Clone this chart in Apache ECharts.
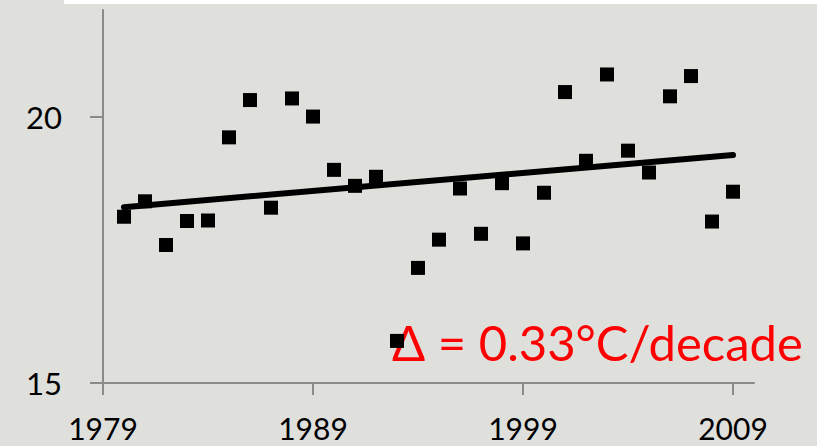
<!DOCTYPE html>
<html>
<head>
<meta charset="utf-8">
<style>
  html, body { margin: 0; padding: 0; background: #dfdfdc; }
  #chart { width: 817px; height: 446px; }
</style>
<script src="https://cdn.jsdelivr.net/npm/echarts@6/dist/echarts.min.js"></script>
</head>
<body>
<div id="chart"></div>
<script>
const years = [1980, 1981, 1982, 1983, 1984, 1985, 1986, 1987, 1988, 1989,
               1990, 1991, 1992, 1993, 1994, 1995, 1996, 1997, 1998, 1999,
               2000, 2001, 2002, 2003, 2004, 2005, 2006, 2007, 2008, 2009];
const temps = [18.12, 18.41, 17.59, 18.04, 18.05, 19.61, 20.31, 18.29, 20.34, 20.00,
               19.00, 18.70, 18.87, 15.79, 17.16, 17.69, 18.65, 17.80, 18.75, 17.62,
               18.57, 20.46, 19.17, 20.79, 19.36, 18.95, 20.38, 20.76, 18.03, 18.59];
const trendYears = [1980, 2009];
const trendValues = [18.30, 19.28];
const xTickLabels = [1979, 1989, 1999, 2009];
const yTickLabels = [15, 20];
const annotation = 'Δ = 0.33°C/decade';

const chart = echarts.init(document.getElementById('chart'), null, { renderer: 'svg' });
const axisColor = '#8a8a8a';
const labelFont = 'Lato, "Open Sans", sans-serif';

chart.setOption({
  backgroundColor: '#dfdfdc',
  animation: false,
  title: {
    text: annotation,
    left: 387,
    top: 312,
    z: 1,
    textStyle: { color: '#ff0000', fontSize: 49, fontWeight: 'normal', fontFamily: 'Lato, sans-serif' }
  },
  graphic: [{
    type: 'rect', left: 64, top: 0, z: 100,
    shape: { width: 753, height: 4 },
    style: { fill: '#ffffff' }
  }],
  grid: { left: 103, right: 63, top: 10, bottom: 63 },
  xAxis: {
    type: 'value',
    min: 1979,
    max: 2010,
    axisLine: { show: true, lineStyle: { color: axisColor, width: 2 } },
    axisTick: { show: true, customValues: xTickLabels, length: 12, lineStyle: { color: axisColor, width: 2 } },
    axisLabel: { customValues: xTickLabels, formatter: v => String(v), color: '#000', fontSize: 30, lineHeight: 30, fontFamily: labelFont, margin: 30 },
    splitLine: { show: false }
  },
  yAxis: {
    type: 'value',
    min: 15,
    max: 22,
    axisLine: { show: true, lineStyle: { color: axisColor, width: 2 } },
    axisTick: { show: true, customValues: yTickLabels, length: 13, lineStyle: { color: axisColor, width: 2 } },
    axisLabel: { customValues: yTickLabels, formatter: v => String(v), color: '#000', fontSize: 31, fontFamily: labelFont, margin: 41 },
    splitLine: { show: false }
  },
  series: [
    {
      type: 'line',
      data: trendYears.map((y, i) => [y, trendValues[i]]),
      symbol: 'none',
      lineStyle: { color: '#000', width: 6, cap: 'round' },
      z: 3
    },
    {
      type: 'scatter',
      data: years.map((y, i) => [y, temps[i]]),
      symbol: 'rect',
      symbolSize: 14,
      itemStyle: { color: '#000', opacity: 1 },
      z: 4
    }
  ]
});
</script>
</body>
</html>
